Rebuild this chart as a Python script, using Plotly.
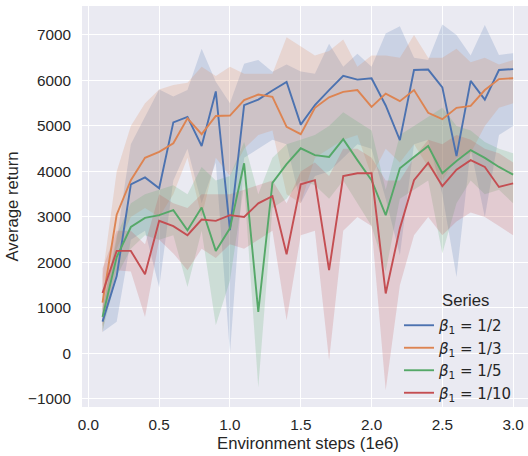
import plotly.graph_objects as go

steps = [round(0.1 * i, 1) for i in range(1, 31)]

labels = ["<i>β</i><sub>1</sub> = 1/2", "<i>β</i><sub>1</sub> = 1/3",
          "<i>β</i><sub>1</sub> = 1/5", "<i>β</i><sub>1</sub> = 1/10"]
colors = ["#4C72B0", "#DD8452", "#55A868", "#C44E52"]
fills = ["rgba(76,114,176,0.2)", "rgba(221,132,82,0.2)",
         "rgba(85,168,104,0.2)", "rgba(196,78,82,0.2)"]

mean_b2 = [700, 1700, 3715, 3870, 3630, 5080, 5200, 4560, 5760, 2710,
           5460, 5580, 5780, 5970, 5030, 5460, 5790, 6100, 6020, 6050,
           5450, 4690, 6230, 6240, 5850, 4340, 5990, 5580, 6230, 6250]
upper_b2 = [1000, 2500, 4600, 5200, 5800, 5650, 5790, 6700, 5970, 5500,
            6370, 6450, 6190, 6350, 6200, 6150, 6810, 6300, 6590, 6300,
            7030, 7190, 6500, 6450, 7230, 7000, 6550, 7220, 6560, 6600]
lower_b2 = [470, 700, 2500, 2700, 1450, 3800, 4500, 3300, 4200, 0,
            4300, 4500, 4700, 4600, 3300, 3900, 4000, 4300, 4600, 4500,
            3400, 2160, 4600, 4700, 3500, 1680, 4500, 3000, 4800, 5000]

mean_b3 = [1120, 3050, 3810, 4300, 4430, 4620, 5170, 4820, 5220, 5230,
           5570, 5690, 5640, 4980, 4820, 5400, 5630, 5750, 5790, 5420,
           5710, 5545, 5790, 5290, 5150, 5400, 5440, 5790, 6030, 6050]
upper_b3 = [1700, 4000, 5000, 5500, 5800, 5900, 5950, 6300, 6100, 6300,
            6150, 6150, 6150, 6950, 6750, 6550, 6650, 6900, 6300, 6550,
            6550, 6500, 7000, 6500, 6500, 6700, 6400, 6500, 6350, 6450]
lower_b3 = [450, 2300, 3000, 3200, 3000, 3500, 4300, 3000, 4300, 3900,
            4500, 4800, 4900, 3500, 3300, 4300, 4500, 4700, 4800, 3900,
            4500, 4200, 4600, 4100, 3800, 4300, 4400, 5000, 5400, 5500]

mean_b5 = [805, 2120, 2780, 2980, 3040, 3150, 2710, 3210, 2255, 2750,
           4180, 915, 3750, 4160, 4510, 4360, 4320, 4710, 4250, 3810,
           3040, 4070, 4320, 4560, 3960, 4230, 4470, 4300, 4100, 3930]
upper_b5 = [1000, 2600, 3300, 3500, 3600, 3700, 3500, 4100, 3800, 3900,
            4650, 3500, 4300, 4600, 4700, 4800, 5000, 5300, 5100, 4900,
            3600, 4800, 5000, 5200, 5400, 5000, 4900, 4650, 4500, 4400]
lower_b5 = [500, 1700, 2300, 2600, 2500, 2600, 1460, 2700, 620, 1600,
            3700, -750, 3200, 3400, 3800, 3700, 3400, 3800, 3300, 2800,
            1800, 3400, 3600, 3800, 2200, 3300, 3800, 3500, 3600, 3300]

mean_b10 = [1330, 2255, 2255, 1740, 2915, 2800, 2600, 2945, 2915, 3040,
            3000, 3300, 3460, 2180, 3720, 3810, 1830, 3900, 3960, 3960,
            1320, 2750, 3810, 4190, 3680, 4040, 4250, 4100, 3660, 3740]
upper_b10 = [1870, 2700, 2700, 2400, 3500, 3300, 3200, 3500, 3500, 3500,
             3600, 3700, 3800, 3300, 4000, 4200, 3900, 4500, 4500, 4300,
             3800, 3800, 4300, 4700, 4600, 4800, 4700, 4500, 4400, 4200]
lower_b10 = [600, 1830, 1800, 800, 2500, 2200, 1830, 2300, 2100, 2400,
             2300, 2500, 2700, 730, 2600, 2700, -150, 2700, 3000, 2800,
             -810, 1500, 2600, 3000, 2600, 2900, 3100, 3000, 2800, 2600]

means = [mean_b2, mean_b3, mean_b5, mean_b10]
uppers = [upper_b2, upper_b3, upper_b5, upper_b10]
lowers = [lower_b2, lower_b3, lower_b5, lower_b10]

fig = go.Figure()
for i in range(4):
    fig.add_trace(go.Scatter(
        x=steps + steps[::-1], y=uppers[i] + lowers[i][::-1],
        fill="toself", fillcolor=fills[i], line=dict(width=0),
        mode="lines", hoverinfo="skip", showlegend=False))
for i in range(4):
    fig.add_trace(go.Scatter(
        x=steps, y=means[i], mode="lines", name=labels[i],
        legendgroup="g%d" % i,
        line=dict(color=colors[i], width=1.9)))

font = "Liberation Sans, Arial, sans-serif"
math_font = "DejaVu Sans, sans-serif"
ink = "#262626"
fig.update_layout(
    width=528, height=456,
    margin=dict(l=82, r=0, t=6, b=49),
    paper_bgcolor="white", plot_bgcolor="#EAEAF2",
    font=dict(family=font, size=15.3, color=ink),
    showlegend=True,
    legend=dict(x=(399 - 82) / 446, xanchor="left",
                y=(407 - 309) / 401, yanchor="top",
                bgcolor="rgba(0,0,0,0)",
                font=dict(family=math_font, size=15, color=ink),
                tracegroupgap=0, itemwidth=30),
    annotations=[
        dict(text="Series", xref="paper", yref="paper",
             x=(440 - 82) / 446, xanchor="left",
             y=(407 - 300) / 401, yanchor="middle", showarrow=False,
             font=dict(family=font, size=16.7, color=ink)),
        dict(text="Environment steps (1e6)", xref="x", yref="paper",
             x=1.55, xanchor="center", y=-(444 - 407) / 401, yanchor="middle",
             showarrow=False, font=dict(family=font, size=16.7, color=ink)),
    ],
)
fig.update_xaxes(
    range=[-0.045, 3.105], tickvals=[0, 0.5, 1.0, 1.5, 2.0, 2.5, 3.0],
    ticktext=["0.0", "0.5", "1.0", "1.5", "2.0", "2.5", "3.0"],
    showgrid=True, gridcolor="white", gridwidth=1.4, zeroline=False,
    ticks="outside", ticklen=4, tickcolor="rgba(0,0,0,0)",
    showline=False)
fig.update_yaxes(
    range=[-1176, 7637], tickvals=[-1000, 0, 1000, 2000, 3000, 4000, 5000, 6000, 7000],
    ticktext=["−1000", "0", "1000", "2000", "3000", "4000", "5000", "6000", "7000"],
    showgrid=True, gridcolor="white", gridwidth=1.4, zeroline=False,
    ticks="outside", ticklen=7, tickcolor="rgba(0,0,0,0)",
    title=dict(text="Average return", font=dict(size=16.7), standoff=5),
    showline=False)

fig.write_html("out.html")
